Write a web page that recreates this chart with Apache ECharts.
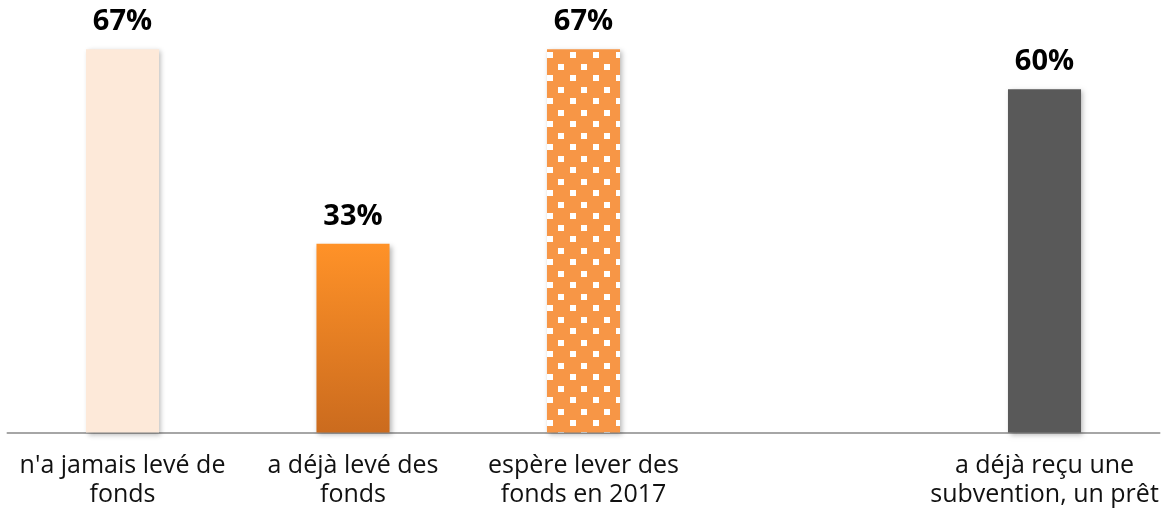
<!DOCTYPE html>
<html>
<head>
<meta charset="utf-8">
<script src="https://cdn.jsdelivr.net/npm/echarts@6/dist/echarts.min.js"></script>
<style>
html,body{margin:0;padding:0;background:#fff;}
#chart{width:1166px;height:510px;}
</style>
</head>
<body>
<div id="chart"></div>
<script>
const categories = ["n'a jamais levé de\nfonds", "a déjà levé des\nfonds", "espère lever des\nfonds en 2017", "", "a déjà reçu une\nsubvention, un prêt"];
const values = [67, 33, 67, null, 60];

// dotted pattern tile for the third bar
function makePattern() {
  const c = document.createElement('canvas');
  c.width = 23; c.height = 23;
  const g = c.getContext('2d');
  g.fillStyle = '#F79646';
  g.fillRect(0, 0, 23, 23);
  g.fillStyle = '#ffffff';
  g.fillRect(18, 6, 6, 6);
  g.fillRect(-5, 6, 6, 6);
  g.fillRect(6, 18, 6, 6);
  g.fillRect(6, -5, 6, 6);
  return c;
}

const shadow = { shadowBlur: 5, shadowOffsetX: 2, shadowOffsetY: 2, shadowColor: 'rgba(0,0,0,0.28)' };
const styles = [
  Object.assign({ color: '#FDE9D9' }, shadow),
  Object.assign({ color: { type: 'linear', x: 0, y: 0, x2: 0, y2: 1, colorStops: [{ offset: 0, color: '#FF9228' }, { offset: 1, color: '#CB6B1E' }] } }, shadow),
  Object.assign({ color: { image: makePattern(), repeat: 'repeat' } }, shadow),
  {},
  Object.assign({ color: '#595959' }, shadow)
];

const chart = echarts.init(document.getElementById('chart'));
chart.setOption({
  animation: false,
  grid: { left: 7.25, right: 6.25, top: 32.1, bottom: 77.5 },
  xAxis: {
    type: 'category',
    data: categories,
    axisLine: { lineStyle: { color: '#898989', width: 1.5 } },
    axisTick: { show: false },
    axisLabel: { interval: 0, margin: 19, fontFamily: 'Open Sans', fontSize: 25, lineHeight: 29, color: '#111' }
  },
  yAxis: { type: 'value', min: 0, max: 70, show: false, splitLine: { show: false } },
  series: [{
    type: 'bar',
    barWidth: '31.7%',
    data: values.map((v, i) => ({ value: v, itemStyle: styles[i] })),
    label: {
      show: true,
      position: 'top',
      distance: 13,
      formatter: p => p.value + '%',
      fontFamily: 'Open Sans',
      fontWeight: 'bold',
      fontSize: 29,
      color: '#000'
    }
  }]
});
</script>
</body>
</html>
